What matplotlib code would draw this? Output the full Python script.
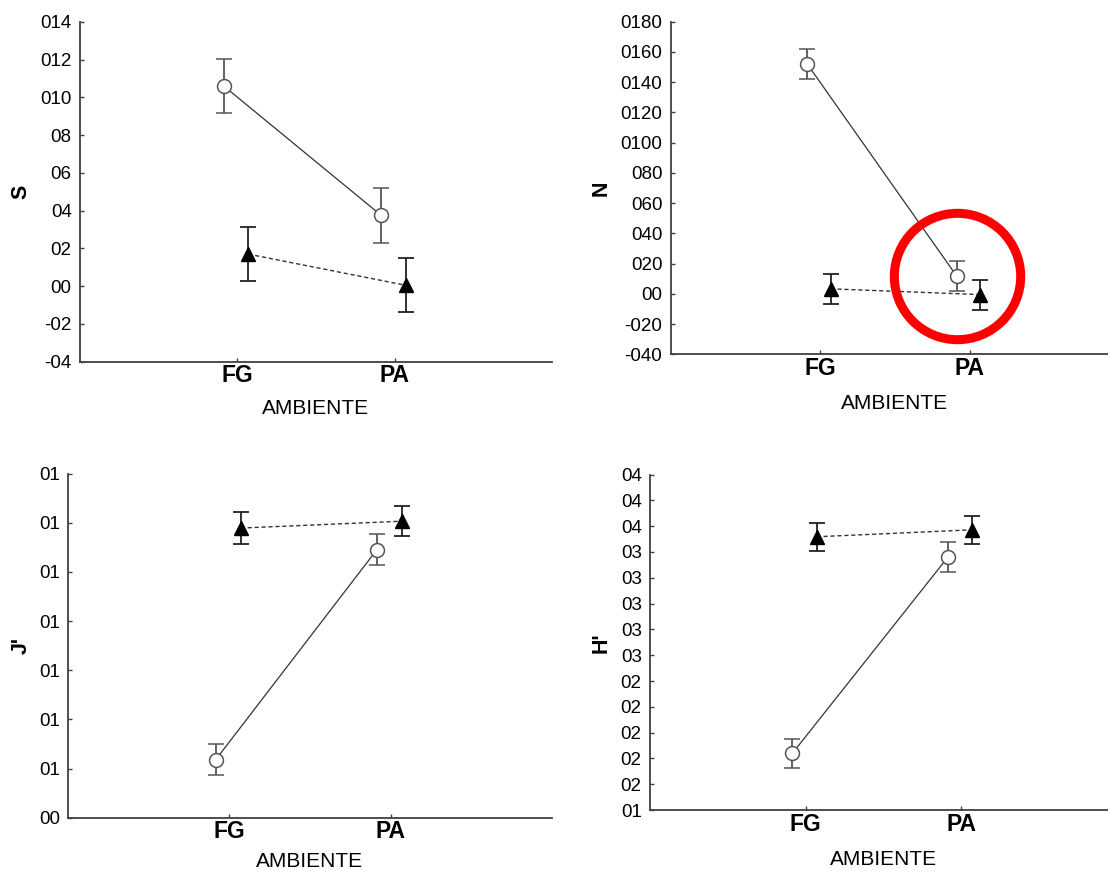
import matplotlib
matplotlib.use("Agg")
import matplotlib.pyplot as plt

plt.rcParams['font.family'] = ['Liberation Sans', 'DejaVu Sans']

# categorias
cats = ["FG", "PA"]

# S
s_circ = [10.6, 3.75]
s_circ_err = [1.42, 1.46]
s_tri = [1.7, 0.05]
s_tri_err = [1.42, 1.43]
s_ticks = [-4, -2, 0, 2, 4, 6, 8, 10, 12, 14]
s_labels = ["-04", "-02", "00", "02", "04", "06", "08", "010", "012", "014"]

# N
n_circ = [151.8, 11.6]
n_circ_err = [9.8, 9.8]
n_tri = [3.3, -0.5]
n_tri_err = [9.9, 9.9]
n_ticks = [-40, -20, 0, 20, 40, 60, 80, 100, 120, 140, 160, 180]
n_labels = ["-040", "-020", "00", "020", "040", "060", "080",
            "0100", "0120", "0140", "0160", "0180"]

# J'
j_circ = [1.18, 5.45]
j_circ_err = [0.32, 0.32]
j_tri = [5.89, 6.03]
j_tri_err = [0.32, 0.31]
j_ticks = [0, 1, 2, 3, 4, 5, 6, 7]
j_labels = ["00", "01", "01", "01", "01", "01", "01", "01"]

# H'
h_circ = [2.2, 9.81]
h_circ_err = [0.56, 0.57]
h_tri = [10.59, 10.86]
h_tri_err = [0.55, 0.55]
h_ticks = list(range(14))
h_labels = ["01", "02", "02", "02", "02", "02", "03", "03",
            "03", "03", "03", "04", "04", "04"]

W, H = 1108, 871
fig = plt.figure(figsize=(W / 100, H / 100), dpi=100)


def px_axes(left, top, right, bottom):
    return fig.add_axes([left / W, 1 - bottom / H, (right - left) / W, (bottom - top) / H])


def panel(ax, circ, circ_err, tri, tri_err, ticks, labels, ylab, ylim, ylab_x, xlab_pad):
    x = [1, 2]
    xc = [v - 0.085 for v in x]
    xt = [v + 0.07 for v in x]
    ax.plot(xc, circ, color="#333333", lw=0.9, zorder=2)
    ax.plot(xt, tri, color="#333333", lw=1.0, linestyle=(0, (3, 2)), zorder=2)
    ax.errorbar(xc, circ, yerr=circ_err, fmt="o", ms=10, mfc="white", mec="#555555",
                mew=1.1, ecolor="#555555", elinewidth=1.3, capsize=6, capthick=1.3, zorder=3)
    ax.errorbar(xt, tri, yerr=tri_err, fmt="^", ms=10, mfc="black", mec="black",
                ecolor="#222222", elinewidth=1.3, capsize=6, capthick=1.3, zorder=3)
    ax.set_xlim(0, 3)
    ax.set_ylim(*ylim)
    ax.set_xticks(x)
    ax.set_xticklabels(cats, fontsize=16.5, fontweight="bold")
    ax.set_yticks(ticks)
    ax.set_yticklabels(labels, fontsize=13.5)
    ax.tick_params(axis="both", direction="in", length=3, width=1, color="#404040")
    ax.tick_params(axis="y", pad=6)
    ax.tick_params(axis="x", pad=2)
    for sp in ["top", "right"]:
        ax.spines[sp].set_visible(False)
    for sp in ["left", "bottom"]:
        ax.spines[sp].set_color("#404040")
        ax.spines[sp].set_linewidth(1.3)
    ax.set_ylabel(ylab, fontsize=15.5, fontweight="bold", va="center")
    ax.yaxis.set_label_coords(ylab_x, 0.5)
    ax.set_xlabel("AMBIENTE", fontsize=15, labelpad=xlab_pad)
    ax.patch.set_visible(False)


ax1 = px_axes(80, 22, 552, 361.7)
panel(ax1, s_circ, s_circ_err, s_tri, s_tri_err, s_ticks, s_labels, "S", (-4, 14), -0.125, 8)

ax2 = px_axes(670.7, 21.6, 1118.9, 354.3)
panel(ax2, n_circ, n_circ_err, n_tri, n_tri_err, n_ticks, n_labels, "N", (-40, 180), -0.155, 10)
# anel vermelho em volta do PA
ax2.plot([2 - 0.085], [n_circ[1]], marker="o", ms=91, mfc="none", mec="#ff0000",
         mew=6.5, zorder=5, clip_on=False)

ax3 = px_axes(68.3, 473.5, 551.7, 817.7)
panel(ax3, j_circ, j_circ_err, j_tri, j_tri_err, j_ticks, j_labels, "J'", (0, 7), -0.098, 6)

ax4 = px_axes(650, 474.6, 1117, 810)
panel(ax4, h_circ, h_circ_err, h_tri, h_tri_err, h_ticks, h_labels, "H'", (0, 13), -0.104, 10)

fig.savefig("out.png", dpi=100, facecolor="white")
